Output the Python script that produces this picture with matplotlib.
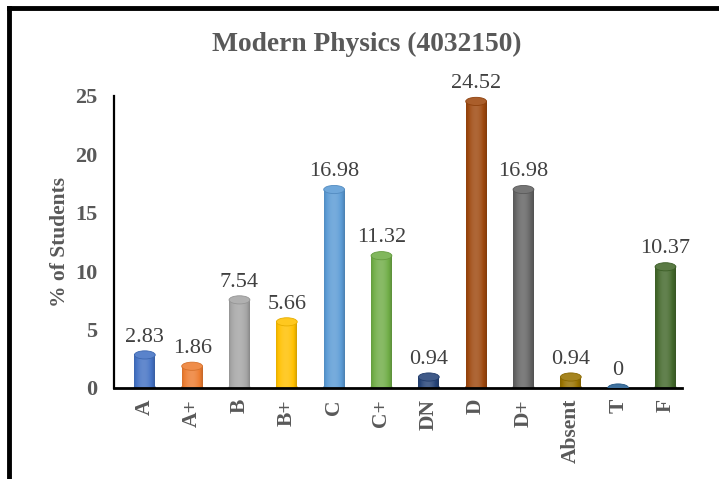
import numpy as np
import matplotlib
matplotlib.use("Agg")
import matplotlib.pyplot as plt
import matplotlib.patches as mpatches
from matplotlib.colors import to_rgb

plt.rcParams['font.family'] = ['Liberation Serif', 'DejaVu Serif']

# data
grades = ['A', 'A+', 'B', 'B+', 'C', 'C+', 'DN', 'D', 'D+', 'Absent', 'T', 'F']
percent = [2.83, 1.86, 7.54, 5.66, 16.98, 11.32, 0.94, 24.52, 16.98, 0.94, 0, 10.37]
bar_colors = ['#4472C4', '#ED7D31', '#A5A5A5', '#FFC000', '#5B9BD5', '#70AD47',
              '#264478', '#9E480E', '#636363', '#997300', '#255E91', '#43682B']

fig = plt.figure(figsize=(7.19, 4.79), dpi=100)
ax = fig.add_axes([0.1586, 0.19, 0.79, 0.61])

x = np.arange(len(grades)) + 0.65
w = 0.44
cap_h = 0.7

def shade(c, f):
    r, g, b = to_rgb(c)
    if f < 1:
        return (r * f, g * f, b * f)
    f = f - 1
    return (r + (1 - r) * f, g + (1 - g) * f, b + (1 - b) * f)

# cylinder bars: gradient body + elliptical caps
grad_x = np.linspace(0, 1, 64)
prof = 0.72 + 0.45 * np.sin(np.pi * (grad_x * 0.85 + 0.1)) ** 0.8
for xi, v, c in zip(x, percent, bar_colors):
    if v > 0:
        rgb = np.array([shade(c, p) for p in prof])[None, :, :]
        ax.imshow(rgb, extent=[xi - w / 2, xi + w / 2, 0, v],
                  aspect='auto', zorder=2, interpolation='bilinear')
        bot = mpatches.Ellipse((xi, 0), w, cap_h, color=shade(c, 0.85), zorder=1.9)
        ax.add_patch(bot)
    top = mpatches.Ellipse((xi, v), w, cap_h, color=shade(c, 1.12), zorder=3,
                           ec=shade(c, 0.9), lw=0.6)
    ax.add_patch(top)
    ax.annotate(f'{v:g}', (xi, v), xytext=(0, 6), textcoords='offset points',
                ha='center', va='bottom', fontsize=16, color='#404040')

ax.set_xlim(0, 12)
ax.set_ylim(0, 25)
ax.set_xticks(x)
ax.set_xticklabels(grades, rotation=90, fontsize=15.5, fontweight='bold', color='#595959')
ax.set_yticks(range(0, 26, 5))
ax.tick_params(axis='y', length=0, pad=12, labelsize=16, labelcolor='#595959')
ax.tick_params(axis='x', length=0, pad=8)
for lab in ax.get_yticklabels():
    lab.set_fontweight('bold')
ax.spines['top'].set_visible(False)
ax.spines['right'].set_visible(False)
ax.spines['left'].set_linewidth(1.6)
ax.spines['bottom'].set_linewidth(2)
ax.set_ylabel('% of Students', fontsize=15.5, fontweight='bold', color='#595959', labelpad=4)

fig.text(0.51, 0.908, 'Modern Physics (4032150)', ha='center', va='center',
         fontsize=19.8, fontweight='bold', color='#595959')

# outer frame (left and top edges)
fig.add_artist(plt.Line2D([0.0128, 0.0128], [0, 0.984], color='black', lw=3.5,
                          transform=fig.transFigure))
fig.add_artist(plt.Line2D([0.0128, 1], [0.984, 0.984], color='black', lw=3.5,
                          transform=fig.transFigure))

fig.savefig('out.png', dpi=100)
